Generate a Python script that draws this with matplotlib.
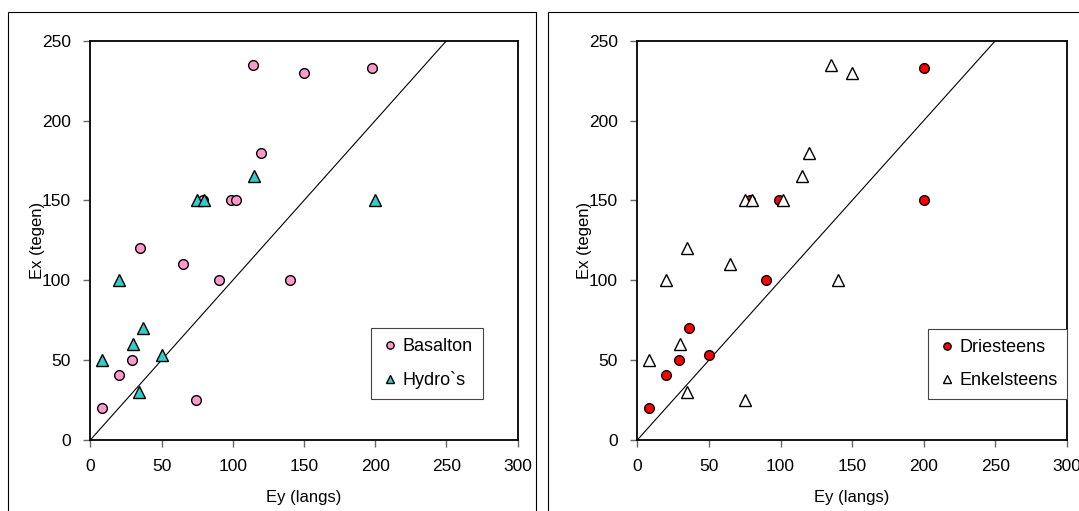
import matplotlib
matplotlib.use('Agg')
import matplotlib.pyplot as plt
from matplotlib.patches import Rectangle

plt.rcParams['font.family'] = ['Liberation Sans', 'DejaVu Sans']
plt.rcParams['font.size'] = 12

# left panel: Basalton / Hydro`s
basalton_x = [8, 20, 29, 35, 65, 74, 79, 90, 99, 102, 120, 140, 114, 150, 198]
basalton_y = [20, 41, 50, 120, 110, 25, 150, 100, 150, 150, 180, 100, 235, 230, 233]
hydros_x = [8, 20, 30, 34, 37, 50, 75, 80, 115, 200]
hydros_y = [50, 100, 60, 30, 70, 53, 150, 150, 165, 150]

# right panel: Driesteens / Enkelsteens
dries_x = [8, 20, 29, 36, 50, 79, 90, 99, 200, 200]
dries_y = [20, 41, 50, 70, 53, 150, 100, 150, 150, 233]
enkel_x = [8, 20, 30, 35, 35, 65, 75, 75, 80, 102, 115, 120, 140, 135, 150]
enkel_y = [50, 100, 60, 30, 120, 110, 25, 150, 150, 150, 165, 180, 100, 235, 230]

W, H = 1079, 511
fig = plt.figure(figsize=(W / 100, H / 100), dpi=100)

# panel frames
fig.patches.append(Rectangle((8 / W, -0.1), 528 / W, 1.1 - 12 / H, transform=fig.transFigure,
                             fill=False, edgecolor='black', linewidth=0.8))
fig.patches.append(Rectangle((548 / W, -0.1), 600 / W, 1.1 - 12 / H, transform=fig.transFigure,
                             fill=False, edgecolor='black', linewidth=0.8))


def make_axes(left_px, right_px):
    ax = fig.add_axes([left_px / W, (H - 440) / H, (right_px - left_px) / W, 399.3 / H])
    ax.set_xlim(0, 300)
    ax.set_ylim(0, 250)
    ax.set_xticks(range(0, 301, 50))
    ax.set_yticks(range(0, 251, 50))
    for s in ax.spines.values():
        s.set_linewidth(1.3)
        s.set_color('black')
    ax.tick_params(direction='out', length=5, width=1, color='#666666', labelsize=12.5, pad=9)
    ax.plot([0, 250], [0, 250], color='black', linewidth=0.8)
    ax.set_xlabel('Ey (langs)', fontsize=12)
    ax.set_ylabel('Ex (tegen)', fontsize=12)
    ax.xaxis.set_label_coords(0.5, -57 / 399.3, transform=ax.transAxes)
    ax.yaxis.set_label_coords(-53 / (right_px - left_px), 0.5, transform=ax.transAxes)
    ax.xaxis.label.set_va('center')
    ax.yaxis.label.set_va('center')
    return ax


ax1 = make_axes(90.3, 517.7)
ax1.plot(basalton_x, basalton_y, 'o', color='#FF99CC', markeredgecolor='black',
         markersize=7, markeredgewidth=1.0, label='Basalton', linestyle='none')
ax1.plot(hydros_x, hydros_y, '^', color='#33CCCC', markeredgecolor='black',
         markersize=8, markeredgewidth=1.0, label='Hydro`s', linestyle='none')
leg1 = ax1.legend(loc='lower right', bbox_to_anchor=(0.94, 0.08), fancybox=False,
                  edgecolor='#444444', framealpha=1, handletextpad=0.2, borderpad=0.55,
                  labelspacing=0.9, markerscale=0.75, handlelength=1.0, fontsize=13)
leg1.get_frame().set_linewidth(0.8)

ax2 = make_axes(637.3, 1067)
ax2.plot(dries_x, dries_y, 'o', color='#FF0000', markeredgecolor='black',
         markersize=7, markeredgewidth=1.0, label='Driesteens', linestyle='none')
ax2.plot(enkel_x, enkel_y, '^', color='white', markeredgecolor='black',
         markersize=8, markeredgewidth=1.0, label='Enkelsteens', linestyle='none')
leg2 = ax2.legend(loc='lower right', bbox_to_anchor=(1.022, 0.08), fancybox=False,
                  edgecolor='#444444', framealpha=1, handletextpad=0.2, borderpad=0.55,
                  labelspacing=0.9, markerscale=0.75, handlelength=1.0, fontsize=13)
leg2.get_frame().set_linewidth(0.8)

fig.savefig('out.png', dpi=100)
